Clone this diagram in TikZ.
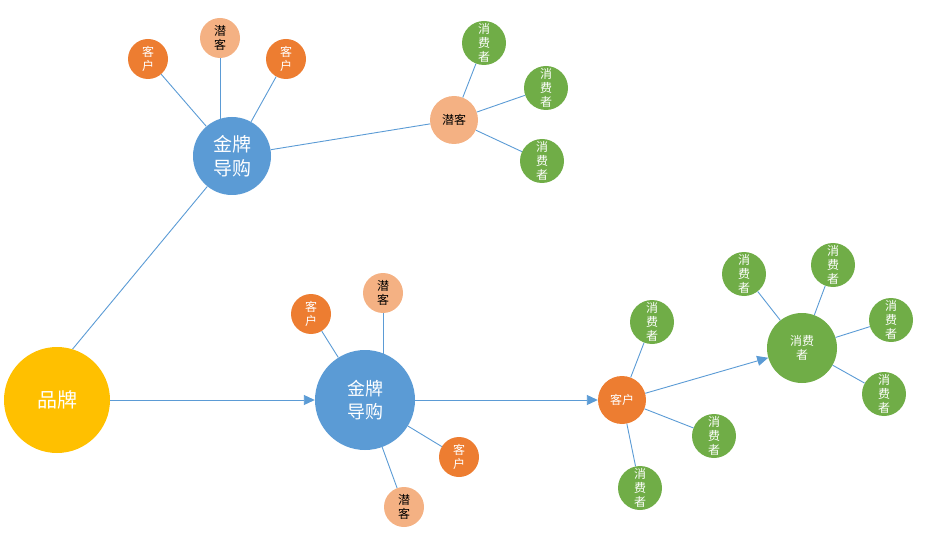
\documentclass[tikz,border=0pt]{standalone}
\usepackage{fontspec}
\setmainfont{Noto Sans CJK SC}
\usetikzlibrary{arrows.meta}

\definecolor{linkblue}{HTML}{5B9BD5}
\definecolor{guideblue}{HTML}{5B9BD5}
\definecolor{brandgold}{HTML}{FFC000}
\definecolor{clientorange}{HTML}{ED7D31}
\definecolor{leadsalmon}{HTML}{F4B183}
\definecolor{usergreen}{HTML}{70AD47}

\begin{document}
\begin{tikzpicture}[x=1pt,y=-1pt,>={Triangle[length=11pt,width=10pt]},
    every edge/.style={draw=linkblue,line width=0.9pt}]

    \tikzstyle{every node}=[circle,inner sep=0pt,align=center,text=white,font=\fontsize{12}{14}\selectfont]
    \tikzstyle{brand}=[fill=brandgold,minimum size=106pt,font=\fontsize{20}{24}\selectfont]
    \tikzstyle{guide}=[fill=guideblue,font=\fontsize{19}{24}\selectfont]
    \tikzstyle{client}=[fill=clientorange,minimum size=40pt]
    \tikzstyle{lead}=[fill=leadsalmon,text=black,minimum size=40pt]
    \tikzstyle{user}=[fill=usergreen,minimum size=44pt]

    \useasboundingbox (0,0) rectangle (944,545);

    \node[brand]                   (b)   at (57,400)  {品牌};

    \node[guide,minimum size=78pt] (g1)  at (232,156) {金牌\\导购};
    \node[client]                  (c1)  at (148,59)  {客\\户};
    \node[lead]                    (l1)  at (220,38)  {潜\\客};
    \node[client]                  (c2)  at (286,59)  {客\\户};
    \node[lead,minimum size=48pt]  (l2)  at (454,120) {潜客};
    \node[user]                    (u1)  at (484,43)  {消\\费\\者};
    \node[user]                    (u2)  at (546,88)  {消\\费\\者};
    \node[user]                    (u3)  at (542,161) {消\\费\\者};

    \node[guide,minimum size=100pt,font=\fontsize{18}{23}\selectfont] (g2) at (365,400) {金牌\\导购};
    \node[client]                  (c3)  at (311,314) {客\\户};
    \node[lead]                    (l3)  at (383,293) {潜\\客};
    \node[client]                  (c4)  at (459,457) {客\\户};
    \node[lead]                    (l4)  at (404,507) {潜\\客};

    \node[client,minimum size=48pt] (c5) at (622,400) {客户};
    \node[user]                    (u4)  at (652,322) {消\\费\\者};
    \node[user]                    (u5)  at (714,436) {消\\费\\者};
    \node[user]                    (u6)  at (640,488) {消\\费\\者};

    \node[user,minimum size=70pt]  (u7)  at (802,348) {消费\\者};
    \node[user]                    (u8)  at (744,274) {消\\费\\者};
    \node[user]                    (u9)  at (833,265) {消\\费\\者};
    \node[user]                    (u10) at (891,320) {消\\费\\者};
    \node[user]                    (u11) at (884,394) {消\\费\\者};

    \path (b.73) edge (g1.231)
          (b)  edge [->] (g2)
          (g1) edge (c1)
          (l1.south) edge (l1.south |- 0,119)
          (g1) edge (c2)
          (g1) edge (l2)
          (l2) edge (u1)
          (l2) edge (u2)
          (l2) edge (u3)
          (g2) edge (c3)
          (l3.south) edge (l3.south |- 0,354)
          (g2) edge (c4)
          (g2) edge (l4)
          (g2) edge [->] (c5)
          (c5) edge (u4)
          (c5) edge (u5)
          (c5) edge (u6)
          (c5) edge [->] (u7)
          (u7) edge (u8)
          (u7) edge (u9)
          (u7) edge (u10)
          (u7) edge (u11)
    ;
\end{tikzpicture}
\end{document}
